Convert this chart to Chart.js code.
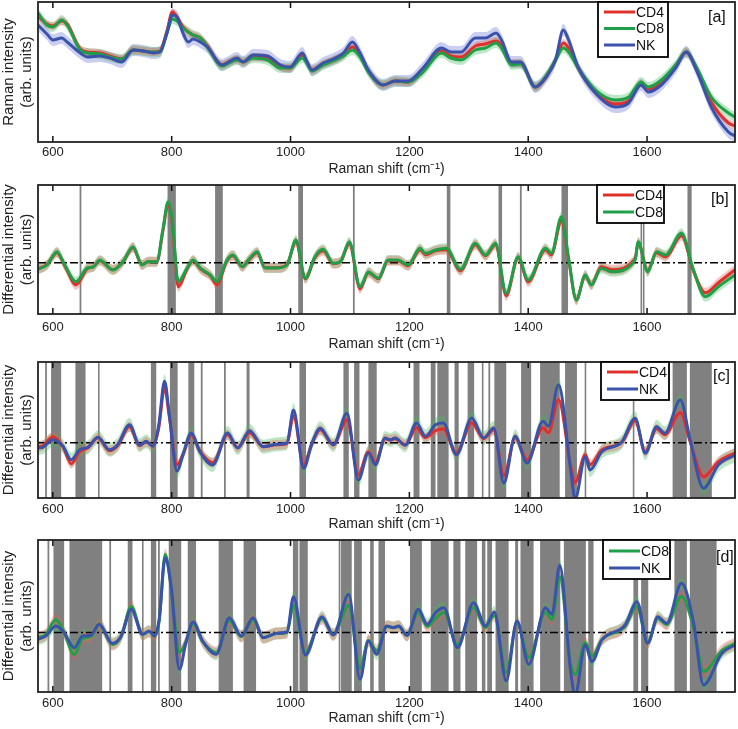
<!DOCTYPE html>
<html><head><meta charset="utf-8">
<script src="https://cdn.jsdelivr.net/npm/chart.js@4.4.1/dist/chart.umd.min.js"></script>
<style>
html,body{margin:0;padding:0;background:#fff;}
#wrap{position:relative;width:738px;height:729px;}
canvas{position:absolute;left:0;}
</style></head><body>
<div id="wrap">
<canvas id="ca" width="738" height="180" style="top:0"></canvas>
<canvas id="cb" width="738" height="175" style="top:180px"></canvas>
<canvas id="cc" width="738" height="180" style="top:355px"></canvas>
<canvas id="cd" width="738" height="194" style="top:535px"></canvas>
</div>
<script>
// ---------- data ----------
const xTicks = [600, 800, 1000, 1200, 1400, 1600];

// panel a : mean Raman spectra
const xA = [575,590,600,615,624,646,658,679,696,716,735,752,769,780,792,801,809,819,828,836,848,860,885,893,910,920,937,961,983,999,1020,1028,1036,1055,1072,1089,1104,1117,1131,1156,1176,1198,1223,1254,1270,1287,1311,1328,1346,1355,1372,1387,1412,1429,1446,1459,1468,1484,1513,1547,1569,1590,1602,1624,1648,1666,1683,1708,1737,1748];
const aNK  = [117,108,102,104,100,89,85,86,84,80,92,91,89,90,109,127,125,109,100,103,100,95,77,79,84,80,87,86,77,75,89,80,72,79,83,89,100,89,72,57,61,61,74,94,90,90,104,104,109,102,80,80,55,64,82,112,102,75,49,35,39,57,50,57,74,90,72,35,10,6];
const aCD8 = [129,117,115,122,117,92,89,88,85,83,92,91,90,90,109,123,121,114,110,107,104,95,76,78,82,80,84,82,74,74,84,78,71,77,81,86,92,85,70,57,61,60,70,89,84,82,92,94,99,94,77,78,55,65,82,94,90,74,52,42,45,60,55,62,77,90,75,45,29,25];
const aCD4 = [126,118,116,121,118,93,90,89,86,83,92,91,90,91,111,130,125,115,110,107,104,96,77,79,83,80,85,84,75,74,87,79,72,78,82,87,95,87,71,57,61,60,72,91,86,85,96,98,101,97,79,79,55,64,82,99,94,74,50,38,41,58,53,59,75,90,73,40,19,16];

// panel b : differential spectra CD4 / CD8
const xB = [575,590,607,620,639,658,668,679,701,718,735,750,760,775,785,794,801,811,826,836,848,865,876,893,903,919,929,944,957,977,994,1009,1025,1041,1055,1072,1084,1099,1117,1131,1148,1164,1181,1198,1218,1227,1244,1262,1286,1311,1328,1345,1363,1383,1400,1429,1439,1456,1468,1481,1496,1506,1523,1540,1580,1585,1601,1616,1631,1658,1678,1698,1720,1748];
const bCD8 = [-6.6,-2.3,11,-2.3,-19,-5.3,-4.3,2.7,-7.3,1,16,-2.3,1,1,32.7,61,42.7,-19,-5.3,2.7,-5.3,-12.3,-19,2.7,7.7,-4,2.7,11,-5.3,-5.3,-2.3,22.7,-15.6,6,13.4,-0.6,1,21,-24,-9.3,-15.6,2.7,2.7,-2.3,14.4,9.4,12.7,14.4,-6.6,19.4,7.7,19.4,-30.6,6,-17.3,14.4,9.4,46,4.4,-37.3,-12.3,-22.3,-5.6,-9,2.7,21,-9,11,7.7,29.4,-7.3,-34,-24,-12.3];
const bCD4 = [-6,-2,10,-3,-22,-6,-4,2,-7,1,15,-2,1,1,31,58,40,-24,-6,2,-6,-13,-22,2,7,-4,2,10,-5,-5,-2,21,-16,5,12,-1,1,19,-26,-10,-16,2,2,-3,13,8,12,13,-8,18,7,18,-33,5,-19,13,8,42,3,-37,-13,-22,-4,-7,4,20,-8,10,6,27,-8,-30,-20,-7];
const bandsB = [[645,648],[793,807],[873,886],[1013,1021],[1105,1108],[1263,1269],[1350,1356],[1386,1389],[1456,1467],[1589,1591],[1593,1595],[1668,1675]];

// panel c : differential spectra CD4 / NK
const xC = [575,583,600,617,631,645,659,676,695,709,729,746,757,768,778,788,796,809,819,833,847,869,894,911,931,954,977,994,1005,1022,1036,1050,1072,1095,1114,1131,1143,1159,1168,1176,1193,1212,1227,1244,1257,1279,1305,1325,1342,1359,1378,1398,1425,1434,1451,1471,1479,1496,1504,1524,1557,1580,1597,1616,1630,1656,1672,1695,1720,1748];
const cNK  = [-5.3,-4.6,3,-3.6,-17,-7,-4.6,5.4,-7,-2,18,-2.6,1.4,-3.6,16.4,61.4,28,-28.6,-12,9.7,-8.6,-22.3,9.7,-5.3,12,-4,-1.6,-0.3,32.7,-25.6,-0.6,14.4,-2.3,29.4,-37.3,-10.3,-22,4.7,2.7,4.7,-2.6,19.7,6.4,18,19.7,-12,24.7,4.7,14.7,-40.3,6.4,-20.3,21.4,16.4,58,-25.3,-56,-14,-27.3,-9,0.4,24.4,-10.6,16,9.4,42.7,4.4,-45.6,-22.3,-12.3];
const cCD4 = [-4,-3,6,-4,-21,-9,-5,5,-8,-3,16,-3,1,-3,14,55,26,-22,-12,8,-8,-20,8,-5,10,-4,-2,-1,27,-22,-1,13,-2,23,-32,-9,-20,4,3,4,-2,15,5,12,14,-10,20,4,13,-33,5,-17,15,10,43,-22,-40,-12,-22,-7,0,22,-9,14,8,30,2,-34,-19,-10];
const bandsC = [[587,590],[597,614],[638,655],[676,678],[765,774],[797,810],[828,838],[849,852],[888,891],[926,931],[1015,1026],[1089,1098],[1107,1116],[1131,1145],[1207,1217],[1236,1244],[1247,1266],[1276,1283],[1298,1309],[1322,1324],[1333,1336],[1343,1363],[1388,1405],[1420,1453],[1462,1482],[1495,1497],[1576,1578],[1643,1667],[1672,1709]];

// panel d : differential spectra CD8 / NK
const xD = [575,588,605,619,636,650,664,678,700,715,732,751,762,771,779,789,799,813,824,836,852,875,897,917,937,954,977,994,1005,1025,1053,1072,1098,1117,1131,1145,1162,1173,1182,1196,1215,1230,1244,1258,1281,1308,1328,1343,1363,1381,1401,1429,1440,1453,1471,1479,1496,1507,1524,1563,1583,1601,1618,1633,1658,1678,1695,1726,1748];
const dNK  = [-6.8,-3.5,6.5,-0.2,-15.2,-3.5,-2.8,8.2,-10.8,-3.5,23.2,-1.8,1.5,-3.5,13.2,74.8,46.5,-36.8,-10.2,10.5,-8.5,-21.8,14.8,-3.5,14.8,-5.2,-0.8,0.5,35.8,-22.5,15.8,-2.5,38.2,-46.8,-8.5,-21.8,6.5,4.8,6.5,-2.8,23.2,8.2,19.8,24.8,-15.2,29.8,6.5,20.5,-48.5,11.5,-31.8,24.8,18.2,67.2,-36.8,-62,-12.5,-29.2,-7.5,7.5,30.8,-10.8,15.8,9.2,49.2,10.8,-52.5,-20.8,-12.5];
const dCD8 = [-5,-2,13,0,-22,-6,-4,8,-12,-4,26,-2,1,-3,12,78,45,-20,-9,9,-9,-20,12,-4,13,-5,-1,0,27,-20,14,-2,27,-36,-8,-18,6,5,6,-3,20,6,14,20,-12,25,5,17,-40,10,-25,20,13,56,-30,-42,-10,-24,-7,6,26,-10,14,8,36,6,-39,-18,-11];
const bandsD = [[591,594],[601,619],[628,683],[695,698],[726,734],[750,752],[765,774],[777,780],[795,816],[827,841],[879,903],[921,942],[1004,1013],[1015,1029],[1081,1084],[1085,1103],[1107,1120],[1134,1140],[1148,1159],[1201,1221],[1236,1266],[1274,1286],[1294,1314],[1322,1328],[1331,1339],[1345,1367],[1378,1383],[1387,1409],[1420,1454],[1460,1497],[1501,1510],[1577,1585],[1590,1602],[1646,1667],[1672,1717]];

// ---------- styles ----------
const FONT = "'Liberation Sans', Arial, Helvetica, sans-serif";
const RED = '#e0302c', GREEN = '#1fa048', BLUE = '#3b52ab';
const RED_F = 'rgba(225,95,85,0.35)', GREEN_F = 'rgba(70,185,95,0.35)', BLUE_F = 'rgba(95,110,215,0.33)';

const pts = (xs, ys, d) => xs.map((v, i) => ({x: v, y: ys[i] + (d || 0)}));

function seriesSets(xs, ys, fillColor, spread) {
  return [
    {data: pts(xs, ys, -spread), borderWidth: 0, pointRadius: 0, fill: false, cubicInterpolationMode: 'monotone', order: 10},
    {data: pts(xs, ys, spread), borderWidth: 0, pointRadius: 0, fill: '-1', backgroundColor: fillColor, cubicInterpolationMode: 'monotone', order: 10},
  ];
}
// lines: listed top-most first (Chart.js draws lower index on top)
function lineSet(xs, ys, color) {
  return {data: pts(xs, ys), borderColor: color, borderWidth: 3, pointRadius: 0, fill: false, cubicInterpolationMode: 'monotone', order: 0};
}
function zeroSet() {
  return {data: [{x: 575, y: 0}, {x: 1748, y: 0}], borderColor: '#000', borderWidth: 1.5, borderDash: [8, 3, 2, 3], pointRadius: 0, fill: false, order: 5};
}

const deco = {
  id: 'deco',
  beforeDatasetsDraw(chart, args, o) {
    const {ctx, chartArea: ca, scales: {x}} = chart;
    ctx.save();
    ctx.fillStyle = '#808080';
    (o.bands || []).forEach(([a, b]) => {
      const x1 = x.getPixelForValue(a), x2 = x.getPixelForValue(b);
      ctx.fillRect(x1, ca.top, Math.max(x2 - x1, 1.6), ca.bottom - ca.top);
    });
    ctx.restore();
  },
  afterDraw(chart, args, o) {
    const {ctx, chartArea: ca, scales: {x}} = chart;
    ctx.save();
    ctx.strokeStyle = '#111'; ctx.lineWidth = 1.5;
    xTicks.forEach(v => {
      const px = x.getPixelForValue(v);
      ctx.beginPath();
      ctx.moveTo(px, ca.top); ctx.lineTo(px, ca.top + 6);
      ctx.moveTo(px, ca.bottom); ctx.lineTo(px, ca.bottom - 6);
      ctx.stroke();
    });
    ctx.strokeStyle = '#222'; ctx.lineWidth = 1.8;
    ctx.strokeRect(ca.left, ca.top, ca.right - ca.left, ca.bottom - ca.top);
    const L = o.legend;
    ctx.fillStyle = '#fff';
    ctx.fillRect(L.x, L.y, L.w, L.h);
    ctx.strokeStyle = '#000'; ctx.lineWidth = 1.8;
    ctx.strokeRect(L.x, L.y, L.w, L.h);
    ctx.font = '14px ' + FONT; ctx.textBaseline = 'middle'; ctx.textAlign = 'left';
    L.items.forEach((it, i) => {
      const yy = L.y + L.first + i * L.step;
      ctx.strokeStyle = it.color; ctx.lineWidth = 3;
      ctx.beginPath(); ctx.moveTo(L.x + 6, yy); ctx.lineTo(L.x + 37, yy); ctx.stroke();
      ctx.fillStyle = '#111';
      ctx.fillText(it.label, L.x + 38, yy + 1);
    });
    ctx.font = '16px ' + FONT; ctx.fillStyle = '#111';
    ctx.fillText(o.tag.text, o.tag.x, o.tag.y);
    ctx.restore();
  }
};

function makeChart(id, cfg) {
  return new Chart(document.getElementById(id), {
    type: 'line',
    data: {datasets: cfg.datasets},
    options: {
      responsive: false, animation: false, events: [],
      layout: {padding: {top: cfg.top, right: 3, left: 0, bottom: 0}},
      plugins: {legend: {display: false}, tooltip: {enabled: false}, deco: cfg.deco},
      scales: {
        x: {
          type: 'linear', min: 575, max: 1748,
          afterBuildTicks(s) { s.ticks = xTicks.map(v => ({value: v})); },
          ticks: {font: {size: 13, family: FONT}, color: '#222', padding: cfg.tickPad, maxRotation: 0, autoSkip: false, callback: v => String(v)},
          grid: {display: false, drawTicks: false}, border: {display: false},
          title: {display: true, text: 'Raman shift (cm\u207B\u00B9)', font: {size: 14, family: FONT}, color: '#222', padding: {top: 0, bottom: 2}},
          afterFit(s) { s.height = cfg.xh; }
        },
        y: {
          min: cfg.ymin, max: cfg.ymax,
          ticks: {display: false}, grid: {display: false, drawTicks: false}, border: {display: false},
          title: {display: true, text: cfg.ytitle, font: {size: 15, family: FONT, lineHeight: 1.2}, color: '#222', padding: {top: 0, bottom: 0}},
          afterFit(s) { s.width = 38; }
        }
      }
    },
    plugins: [deco]
  });
}

// panel a
makeChart('ca', {
  top: 2, xh: 38, tickPad: 3, ymin: 0, ymax: 140,
  ytitle: ['Raman intensity', '(arb. units)'],
  datasets: [
    lineSet(xA, aNK, BLUE), lineSet(xA, aCD8, GREEN), lineSet(xA, aCD4, RED),
    ...seriesSets(xA, aCD4, RED_F, 4),
    ...seriesSets(xA, aCD8, GREEN_F, 5),
    ...seriesSets(xA, aNK, BLUE_F, 6)
  ],
  deco: {bands: [], legend: {x: 598, y: 2, w: 70, h: 55, first: 10, step: 16.5, items: [{label: 'CD4', color: RED}, {label: 'CD8', color: GREEN}, {label: 'NK', color: BLUE}]}, tag: {text: '[a]', x: 708, y: 18}}
});

// panel b
makeChart('cb', {
  top: 5, xh: 41, tickPad: 6, ymin: -51.3, ymax: 77.7,
  ytitle: ['Differential intensity', '(arb. units)'],
  datasets: [
    lineSet(xB, bCD8, GREEN), lineSet(xB, bCD4, RED),
    zeroSet(),
    ...seriesSets(xB, bCD4, RED_F, 5),
    ...seriesSets(xB, bCD8, GREEN_F, 5)
  ],
  deco: {bands: bandsB, legend: {x: 597, y: 5, w: 67, h: 38, first: 10, step: 17, items: [{label: 'CD4', color: RED}, {label: 'CD8', color: GREEN}]}, tag: {text: '[b]', x: 711, y: 20}}
});

// panel c
makeChart('cc', {
  top: 7, xh: 37, tickPad: 4, ymin: -55.3, ymax: 80.7,
  ytitle: ['Differential intensity', '(arb. units)'],
  datasets: [
    lineSet(xC, cNK, BLUE), lineSet(xC, cCD4, RED),
    zeroSet(),
    ...seriesSets(xC, cCD4, RED_F, 5),
    ...seriesSets(xC, cNK, GREEN_F, 7)
  ],
  deco: {bands: bandsC, legend: {x: 601, y: 7, w: 68, h: 38, first: 10, step: 17, items: [{label: 'CD4', color: RED}, {label: 'NK', color: BLUE}]}, tag: {text: '[c]', x: 713, y: 22}}
});

// panel d
makeChart('cd', {
  top: 5, xh: 37, tickPad: 4, ymin: -59.5, ymax: 92.5,
  ytitle: ['Differential intensity', '(arb. units)'],
  datasets: [
    lineSet(xD, dNK, BLUE), lineSet(xD, dCD8, GREEN),
    zeroSet(),
    ...seriesSets(xD, dCD8, RED_F, 6),
    ...seriesSets(xD, dNK, GREEN_F, 6)
  ],
  deco: {bands: bandsD, legend: {x: 603, y: 5, w: 67, h: 39, first: 11, step: 17, items: [{label: 'CD8', color: GREEN}, {label: 'NK', color: BLUE}]}, tag: {text: '[d]', x: 716, y: 23}}
});
</script>
</body></html>
